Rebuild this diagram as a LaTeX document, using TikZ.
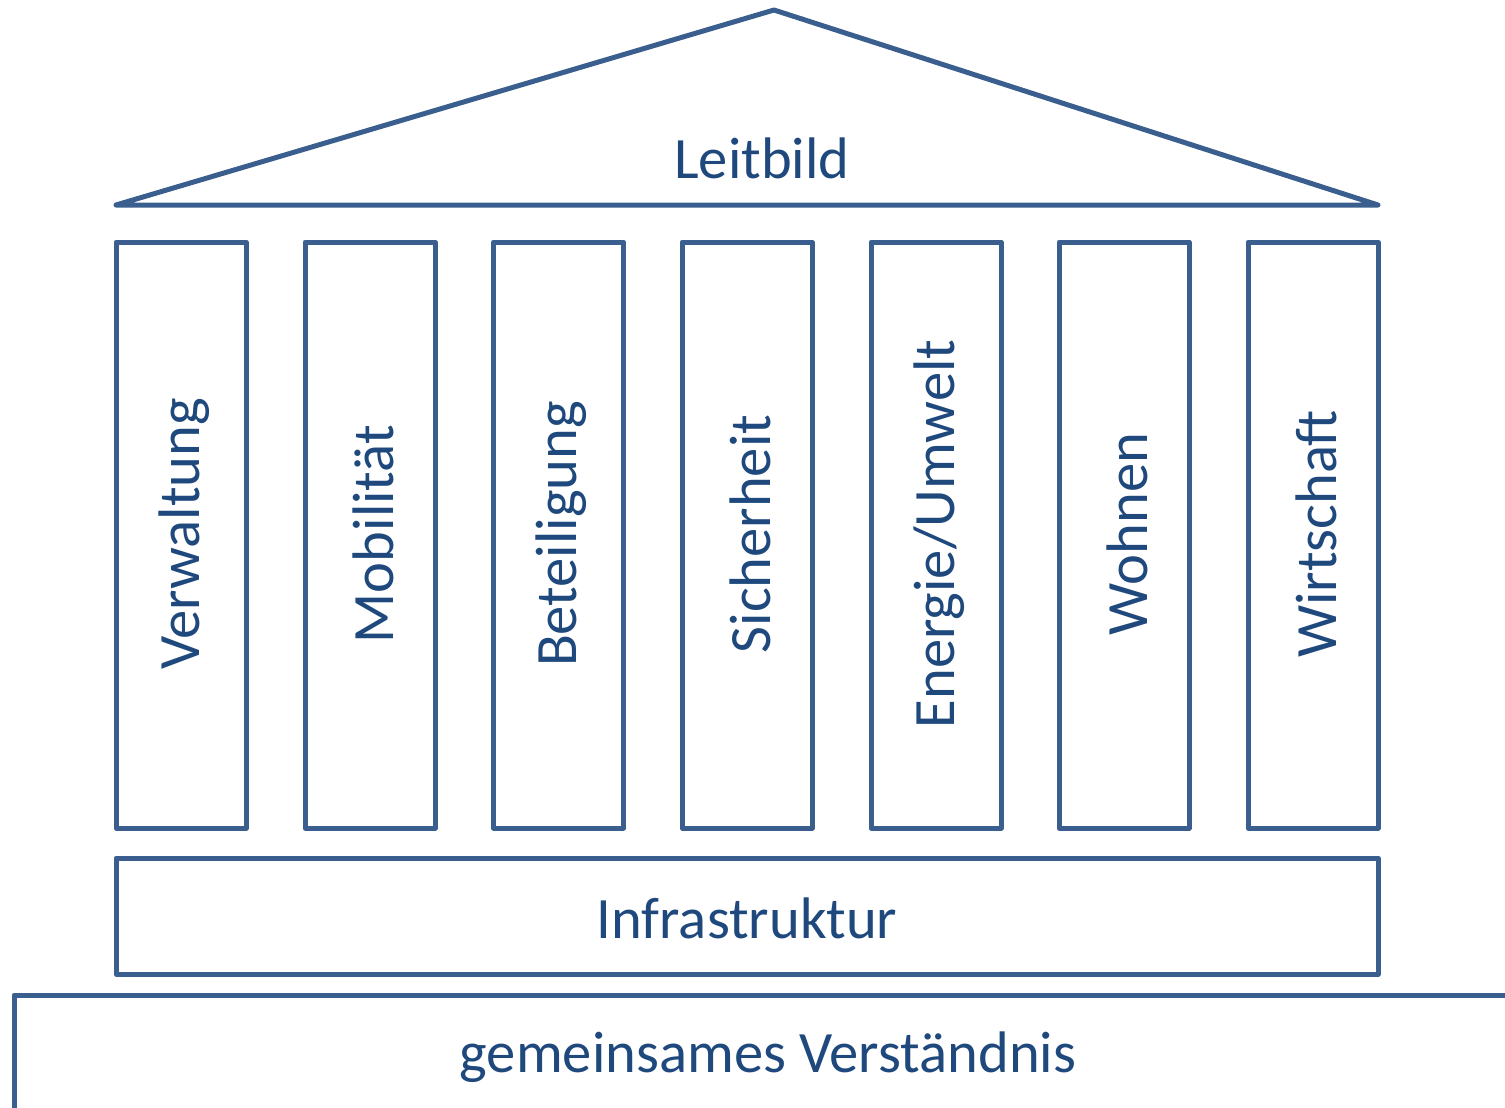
\documentclass[tikz,border=0pt]{standalone}
\usepackage{fontspec}
\setmainfont{Carlito}
\definecolor{lineblue}{HTML}{3A5F8E}
\definecolor{textblue}{HTML}{1F497D}
\begin{document}
\begin{tikzpicture}[x=1pt,y=-1pt,
  outline/.style={draw=lineblue,line width=5pt,line join=round},
  lbl/.style={text=textblue,font=\fontsize{58.6}{60}\selectfont,inner sep=0pt},
  pillar/.style={outline,minimum width=130pt,minimum height=586pt,inner sep=0pt}]
\useasboundingbox (0,0) rectangle (1505,1108);
% roof
\coordinate (apex) at (774,10);
\coordinate (rl) at (116,205);
\coordinate (rr) at (1378,205);
\draw[outline] (rl) -- (apex) -- (rr) -- cycle;
\node[lbl] (leit) at (762,158) {Leitbild};
% pillars
\foreach \x/\t/\n in {181/Verwaltung/p1,370/Mobilität/p2,558.5/Beteiligung/p3,747/Sicherheit/p4,936/Energie\slash Umwelt/p5,1124/Wohnen/p6,1313/Wirtschaft/p7}{
  \node[pillar] (\n) at (\x,535) {};
  \node[lbl,rotate=90] (\n t) at (\x+3,534) {\t};
}
% infrastructure
\node[outline,minimum width=1262pt,minimum height=116pt,inner sep=0pt] (infra) at (747,916) {};
\node[lbl] (infrat) at (747,918) {Infrastruktur};
% foundation
\coordinate (f1) at (14,1120);
\coordinate (f2) at (14,995);
\coordinate (f3) at (1520,995);
\draw[outline] (f1) -- (f2) -- (f3);
\node[lbl] (found) at (768,1057) {gemeinsames Verständnis};
\end{tikzpicture}
\end{document}
